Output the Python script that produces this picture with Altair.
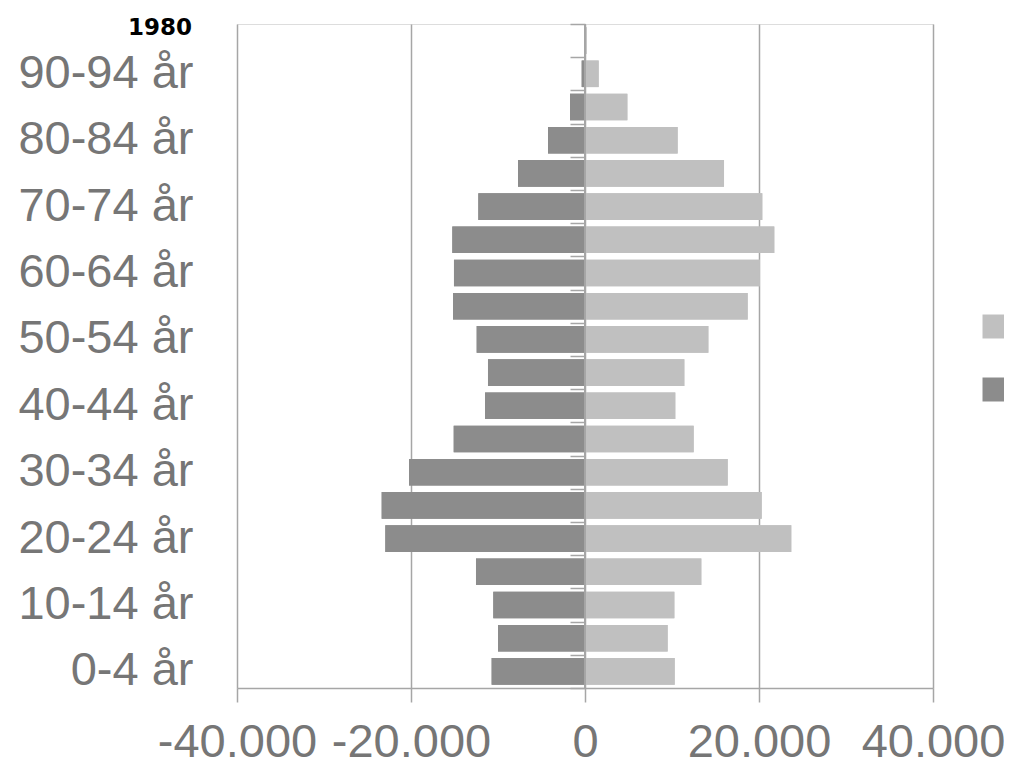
import altair as alt
import pandas as pd

ages = ["0-4 år", "5-9 år", "10-14 år", "15-19 år", "20-24 år", "25-29 år",
        "30-34 år", "35-39 år", "40-44 år", "45-49 år", "50-54 år", "55-59 år",
        "60-64 år", "65-69 år", "70-74 år", "75-79 år", "80-84 år", "85-89 år",
        "90-94 år", "95+ år"]
men = [10730, 10000, 10540, 12530, 22950, 23370, 20230, 15090, 11490, 11150,
       12450, 15170, 15060, 15250, 12260, 7700, 4250, 1720, 380, 60]
women = [10310, 9500, 10270, 13370, 23710, 20310, 16400, 12490, 10380, 11420,
         14180, 18700, 20110, 21760, 20380, 15980, 10650, 4870, 1570, 190]
sexes = ["Kvinnor", "Män"]
x_ticks = [-40000, -20000, 0, 20000, 40000]
shown_labels = ages[0:19:2]

rows = []
for a, m, w in zip(ages, men, women):
    rows.append({"age": a, "sex": "Män", "value": -m})
    rows.append({"age": a, "sex": "Kvinnor", "value": w})
df = pd.DataFrame(rows)

order = list(reversed(ages))
FONT = "Liberation Sans"
GREY = "#767676"
LINE = "#a6a6a6"

yscale = alt.Scale(domain=order, paddingInner=0, paddingOuter=0)
xscale = alt.Scale(domain=[-40000, 40000], nice=False)
label_expr = "(datum.value < 0 ? '-' : '') + replace(format(abs(datum.value), ','), ',', '.')"

xaxis = alt.Axis(title=None, values=x_ticks, labelExpr=label_expr, grid=True,
                 gridColor=LINE, gridWidth=1.5, domainColor=LINE, domainWidth=1.5,
                 tickColor=LINE, tickWidth=1.5, tickSize=14, labelFontSize=47,
                 labelFont=FONT, labelColor=GREY, labelPadding=17,
                 labelOverlap=False, labelFlush=False, labelBound=False)

color = alt.Color("sex:N", scale=alt.Scale(domain=sexes, range=["#c0c0c0", "#8c8c8c"]),
                  legend=alt.Legend(title=None, orient="none", legendX=734, legendY=279,
                                    symbolType="square", symbolSize=576, symbolStrokeWidth=0,
                                    labelFontSize=47, labelFont=FONT, labelColor=GREY,
                                    rowPadding=15, padding=0, labelOffset=10))

bars = alt.Chart(df).mark_bar(height={"band": 0.8}).encode(
    y=alt.Y("age:N", scale=yscale,
            axis=alt.Axis(title=None, values=shown_labels, ticks=False, tickSize=0,
                          domain=False, labelFontSize=47, labelFont=FONT,
                          labelColor=GREY, labelPadding=44, orient="left", grid=False)),
    x=alt.X("value:Q", scale=xscale, axis=xaxis),
    color=color,
)

bars2 = alt.Chart(df).mark_bar(height={"band": 0.8}).encode(
    y=alt.Y("age:N", scale=yscale,
            axis=alt.Axis(title=None, orient="left", offset=-348, labels=False,
                          domain=False, ticks=True, tickBand="extent", tickSize=15,
                          tickColor=LINE, tickWidth=1.5, grid=False, zindex=1)),
    x=alt.X("value:Q", scale=xscale, axis=xaxis),
    color=color,
)

zero = alt.Chart(df).mark_rule(color=LINE, strokeWidth=1.5).encode(
    x=alt.X(datum=0, scale=xscale, axis=xaxis),
)

chart = alt.layer(bars, bars2, zero).resolve_axis(y="independent").properties(
    width=696, height=664,
    padding={"left": 229, "top": 16, "right": 71, "bottom": 74},
    autosize=alt.AutoSizeParams(type="none"),
    title=alt.TitleParams("1980", font="DejaVu Sans", fontSize=23, fontWeight="bold",
                          color="black", anchor="start", frame="group", align="right",
                          dx=-45, baseline="alphabetic", offset=0, dy=35),
).configure_view(strokeWidth=0, stroke="transparent").configure(background="white")

chart.save("out.html", embed_options={"renderer": "svg", "actions": False})
